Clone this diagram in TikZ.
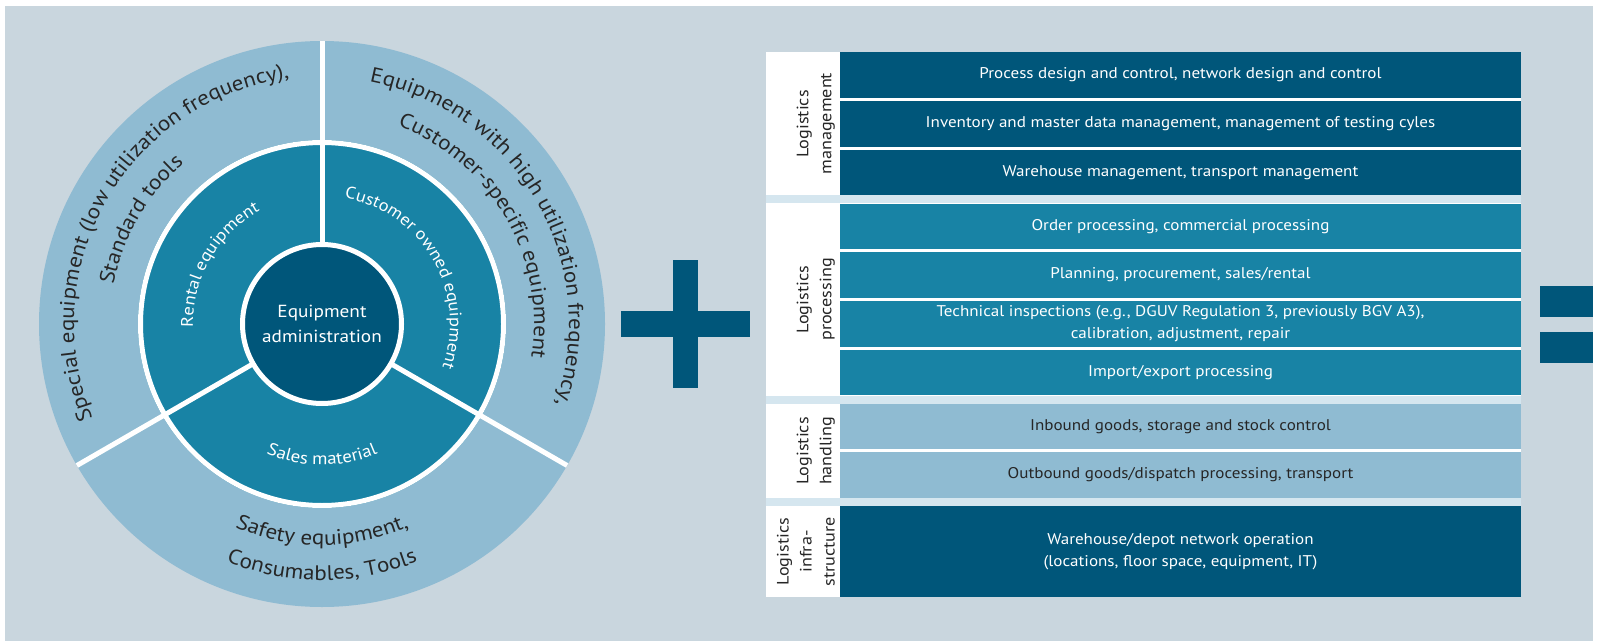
\documentclass[tikz,border=0pt]{standalone}
\usepackage{fontspec}
\setmainfont[FakeStretch=1.1]{PT Sans}
\usetikzlibrary{decorations.text}
\definecolor{bgc}{HTML}{C9D6DE}
\definecolor{ringlight}{HTML}{8FBBD2}
\definecolor{ringmid}{HTML}{1883A5}
\definecolor{darkblue}{HTML}{00567A}
\definecolor{gapc}{HTML}{D5E6EF}
\definecolor{txtdark}{HTML}{262626}
\begin{document}
\begin{tikzpicture}[x=1pt,y=1pt,
  rowbase/.style={draw=none, minimum width=681pt, inner sep=0pt, align=center,
    font=\fontsize{15.5}{22}\selectfont},
  rowdark/.style={rowbase, fill=darkblue, text=white},
  rowteal/.style={rowbase, fill=ringmid, text=white},
  rowlight/.style={rowbase, fill=ringlight, text=txtdark},
  lbl/.style={rotate=90, anchor=south, inner sep=0pt, align=center, text=txtdark,
    font=\fontsize{16.5}{23}\selectfont},
  divider/.style={draw=white, line width=5pt},
  symb/.style={fill=darkblue},
  ringtext/.style={decorate, decoration={text along path, text align=center, text={#1}}}
]
\useasboundingbox (0,0) rectangle (1600,641);
\fill[white] (0,0) rectangle (1600,641);
\fill[bgc] (5,0) rectangle (1593,635);

% ---------- circle ----------
\coordinate (O) at (322,317);
\fill[ringlight] (O) circle (283);
\fill[ringmid] (O) circle (184);
\foreach \a in {90,210,330}{
  \draw[divider] ([shift={(\a:80)}]O) -- ([shift={(\a:283)}]O);
}
\draw[divider] (O) circle (181.5);
\node[circle, fill=darkblue, draw=white, line width=5pt, minimum size=159pt, inner sep=0pt,
  align=center, text=white, font=\fontsize{17.5}{25}\selectfont] (center) at (O)
  {Equipment\\administration};

% outer ring texts
\path[ringtext={|\fontsize{21}{26}\selectfont\color{txtdark}|Special equipment (low utilization frequency),}]
  ([shift={(235:248)}]O) arc[start angle=235, end angle=65, radius=248];
\path[ringtext={|\fontsize{21}{26}\selectfont\color{txtdark}|Standard tools}]
  ([shift={(230:212)}]O) arc[start angle=230, end angle=70, radius=212];
\path[ringtext={|\fontsize{21}{26}\selectfont\color{txtdark}|Equipment with high utilization frequency,}]
  ([shift={(115:247)}]O) arc[start angle=115, end angle=-55, radius=247];
\path[ringtext={|\fontsize{21}{26}\selectfont\color{txtdark}|Customer-specific equipment}]
  ([shift={(110:212)}]O) arc[start angle=110, end angle=-50, radius=212];
\path[ringtext={|\fontsize{21}{26}\selectfont\color{txtdark}|Safety equipment,}]
  ([shift={(200:221)}]O) arc[start angle=200, end angle=340, radius=221];
\path[ringtext={|\fontsize{21}{26}\selectfont\color{txtdark}|Consumables, Tools}]
  ([shift={(200:256)}]O) arc[start angle=200, end angle=340, radius=256];

% middle ring texts
\path[ringtext={|\fontsize{16.8}{20}\selectfont\color{white}|Rental equipment}]
  ([shift={(215:129)}]O) arc[start angle=215, end angle=85, radius=129];
\path[ringtext={|\fontsize{16.8}{20}\selectfont\color{white}|Customer owned equipment}]
  ([shift={(105:128)}]O) arc[start angle=105, end angle=-45, radius=128];
\path[ringtext={|\fontsize{17.2}{20}\selectfont\color{white}|Sales material}]
  ([shift={(210:141)}]O) arc[start angle=210, end angle=330, radius=141];

% ---------- plus ----------
\fill[symb] (621,304) rectangle (750,330);
\fill[symb] (673,253) rectangle (698,381);

% ---------- equals ----------
\fill[symb] (1540,324) rectangle (1593,355);
\fill[symb] (1540,278) rectangle (1593,309);

% ---------- table ----------
\fill[white] (765.5,445.5) rectangle (1521,589);
\fill[gapc]  (765.5,437.5) rectangle (1521,445.5);
\fill[white] (765.5,245.5) rectangle (1521,437.5);
\fill[gapc]  (765.5,237)   rectangle (1521,245.5);
\fill[white] (765.5,143.5) rectangle (1521,237);
\fill[gapc]  (765.5,135)   rectangle (1521,143.5);
\fill[white] (765.5,44)    rectangle (1521,135);

\node[rowdark, minimum height=45.8pt] (r1) at (1180.5,566.1) {Process design and control, network design and control};
\node[rowdark, minimum height=45.9pt] (r2) at (1180.5,517.25) {Inventory and master data management, management of testing cyles};
\node[rowdark, minimum height=45.8pt] (r3) at (1180.5,468.4) {Warehouse management, transport management};
\node[rowteal, minimum height=45.75pt] (r4) at (1180.5,414.6) {Order processing, commercial processing};
\node[rowteal, minimum height=45.75pt] (r5) at (1180.5,365.9) {Planning, procurement, sales/rental};
\node[rowteal, minimum height=45.75pt] (r6) at (1180.5,317.1) {Technical inspections (e.g., DGUV Regulation 3, previously BGV A3),\\calibration, adjustment, repair};
\node[rowteal, minimum height=45.75pt] (r7) at (1180.5,268.4) {Import/export processing};
\node[rowlight, minimum height=45.25pt] (r8) at (1180.5,214.4) {Inbound goods, storage and stock control};
\node[rowlight, minimum height=45.25pt] (r9) at (1180.5,166.1) {Outbound goods/dispatch processing, transport};
\node[rowdark, minimum height=91pt] (r10) at (1180.5,89.5) {Warehouse/depot network operation\\(locations, floor space, equipment, IT)};

\node[lbl] (l1) at (835,517.25) {Logistics\\management};
\node[lbl] (l2) at (835,341.5) {Logistics\\processing};
\node[lbl] (l3) at (835,190.25) {Logistics\\handling};
\node[lbl] (l4) at (835,89.5) {Logistics\\infra-\\structure};
\end{tikzpicture}
\end{document}
